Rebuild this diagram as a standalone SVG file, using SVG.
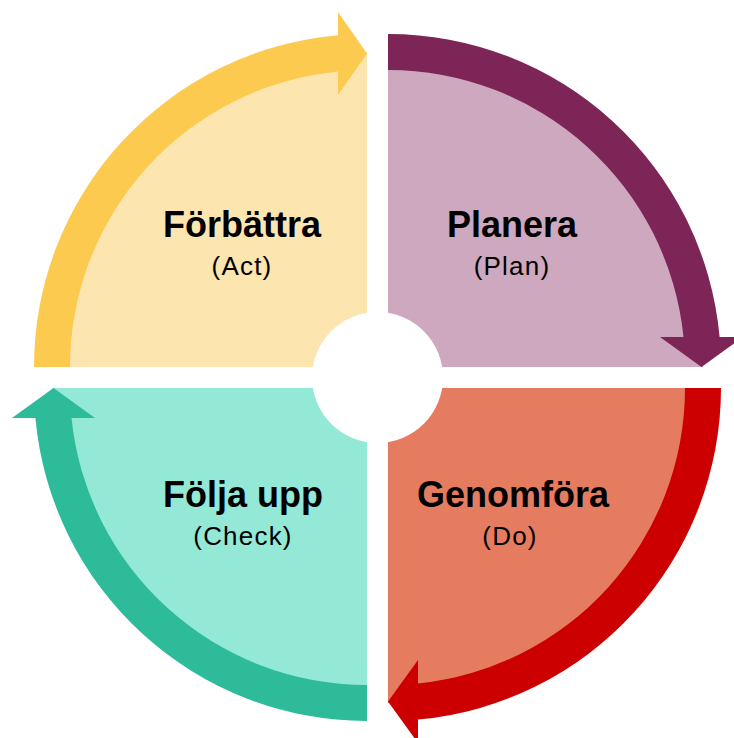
<svg xmlns="http://www.w3.org/2000/svg" width="734" height="738" viewBox="0 0 734 738">
<style>
.t{font-family:"Liberation Sans",Arial,sans-serif;font-weight:bold;font-size:36px;fill:#000;text-anchor:middle}
.s{font-family:"Liberation Sans",Arial,sans-serif;font-size:26px;letter-spacing:1.2px;fill:#000;text-anchor:middle}
</style>
<rect width="734" height="738" fill="#fff"/>
<g id="act">
<path d="M367,367 L52,367 A315,315 0 0 1 367,52 Z" fill="#FDE5B0"/>
<text class="t" x="242" y="237">Förbättra</text>
<text class="s" x="242" y="275">(Act)</text>
</g>
<g id="plan">
<path d="M388,367 L388,52 A315,315 0 0 1 703,367 Z" fill="#CDA8BF"/>
<text class="t" x="512" y="237">Planera</text>
<text class="s" x="512" y="275">(Plan)</text>
</g>
<g id="do">
<path d="M388,388 L703,388 A315,315 0 0 1 388,703 Z" fill="#E57C5F"/>
<text class="t" x="513" y="507">Genomföra</text>
<text class="s" x="510" y="545">(Do)</text>
</g>
<g id="check">
<path d="M367,388 L367,703 A315,315 0 0 1 52,388 Z" fill="#93E8D6"/>
<text class="t" x="243" y="507">Följa upp</text>
<text class="s" x="243" y="545">(Check)</text>
</g>
<g id="connectors">
<path d="M34,367 A333,333 0 0 1 338,35.3 L338,12 L367,53.5 L338,95 L338,71.4 A297,297 0 0 0 70,367 Z" fill="#FDCA50"/>
<path d="M388,34 A333,333 0 0 1 719.6,337 L743,337 L701.5,367 L660,337 L683.5,337 A297,297 0 0 0 388,70 Z" fill="#7E2557"/>
<path d="M721,388 A333,333 0 0 1 418,719.6 L418,743 L388,701.5 L418,660 L418,683.5 A297,297 0 0 0 685,388 Z" fill="#CC0000"/>
<path d="M367,721 A333,333 0 0 1 35.4,418 L12,418 L53.5,388 L95,418 L71.5,418 A297,297 0 0 0 367,685 Z" fill="#2DBB9A"/>
</g>
<circle id="hub" cx="377.5" cy="377.5" r="65.5" fill="#fff"/>
</svg>
